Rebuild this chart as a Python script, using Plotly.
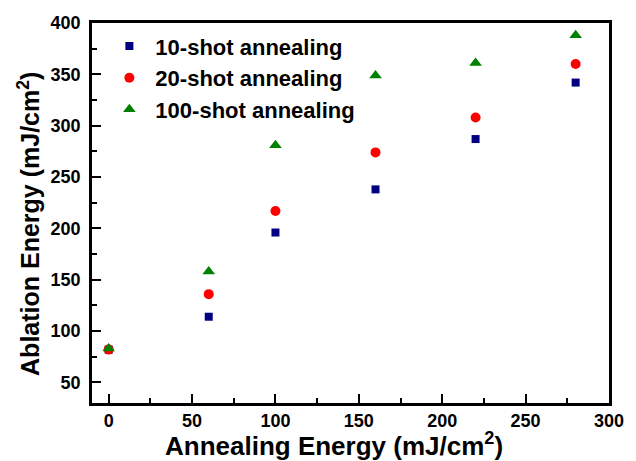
import plotly.graph_objects as go

anneal_energy = [0, 60, 100, 160, 220, 280]
shot10 = [82, 114, 196, 238, 287, 342]
shot20 = [82, 136, 217, 274, 308, 360]
shot100 = [83, 158, 281, 349, 361, 388]
series_names = ["10-shot annealing", "20-shot annealing", "100-shot annealing"]
x_title = "Annealing Energy (mJ/cm<sup>2</sup>)"
y_title = "Ablation Energy (mJ/cm<sup>2</sup>)"

FONT = "Liberation Sans, Arial, sans-serif"

fig = go.Figure()
fig.add_trace(go.Scatter(x=anneal_energy, y=shot10, mode="markers", name=series_names[0],
                         marker=dict(symbol="square", size=8, color="#000080")))
fig.add_trace(go.Scatter(x=anneal_energy, y=shot20, mode="markers", name=series_names[1],
                         marker=dict(symbol="circle", size=10, color="#ff0000")))
fig.add_trace(go.Scatter(x=anneal_energy, y=shot100, mode="markers", name=series_names[2],
                         marker=dict(symbol="triangle-up", size=11, color="#008000")))

axis_common = dict(
    showline=True, linecolor="black", linewidth=2.5, mirror=True,
    ticks="inside", ticklen=9, tickwidth=2, tickcolor="black",
    showgrid=False, zeroline=False, automargin=False,
    tickfont=dict(family=FONT, size=18, color="black", weight="bold"),
)

fig.update_layout(
    width=636, height=461,
    margin=dict(l=92, r=27, t=23, b=58),
    paper_bgcolor="white", plot_bgcolor="white",
    font=dict(family=FONT, color="black"),
    showlegend=True,
    legend=dict(x=0.022, y=0.994, xanchor="left", yanchor="top",
                bgcolor="rgba(0,0,0,0)",
                font=dict(family=FONT, size=22, color="black", weight="bold"),
                itemwidth=42, tracegroupgap=0),
    xaxis=dict(**axis_common, range=[-10, 300], tickvals=[0, 50, 100, 150, 200, 250, 300],
               minor=dict(tickvals=[25, 75, 125, 175, 225, 275], ticks="inside", ticklen=5,
                          tickwidth=2, tickcolor="black"),
               ticklabelstandoff=0),
    yaxis=dict(**axis_common, range=[30, 400], tickvals=[50, 100, 150, 200, 250, 300, 350, 400],
               minor=dict(tickvals=[75, 125, 175, 225, 275, 325, 375], ticks="inside", ticklen=5,
                          tickwidth=2, tickcolor="black"),
               ticklabelstandoff=5),
    annotations=[
        dict(text=x_title, xref="paper", yref="paper", x=0.468, y=-0.11,
             xanchor="center", yanchor="middle", showarrow=False,
             font=dict(family=FONT, size=26, color="black", weight="bold")),
        dict(text=y_title, xref="paper", yref="paper", x=-0.122, y=0.471,
             xanchor="center", yanchor="middle", showarrow=False, textangle=-90,
             font=dict(family=FONT, size=25, color="black", weight="bold")),
    ],
)

fig.write_html("out.html", config={"displayModeBar": False},
               post_script="document.body.style.margin='0px';document.body.style.overflow='hidden';")
